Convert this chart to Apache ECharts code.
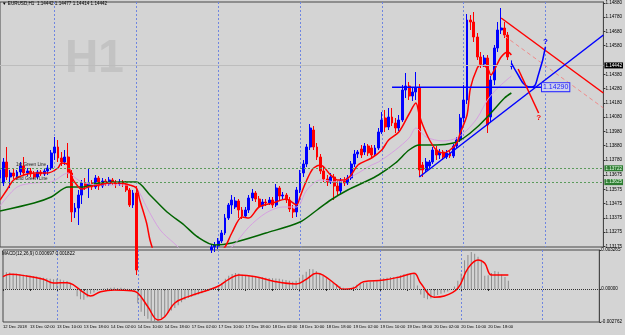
<!DOCTYPE html>
<html>
<head>
<meta charset="utf-8">
<title>EURUSD,H1</title>
<script src="https://cdn.jsdelivr.net/npm/echarts@6/dist/echarts.min.js"></script>
<style>
  html, body { margin: 0; padding: 0; background: #d4d4d4; }
  #chart { width: 625px; height: 335px; }
</style>
</head>
<body>
<div id="chart"></div>
<script>
// one label every 8 hourly bars, starting at bar 0 (12 Dec 18:00)
const timeLabels = [
  "12 Dec 2018", "13 Dec 02:00", "13 Dec 10:00", "13 Dec 18:00", "14 Dec 02:00",
  "14 Dec 10:00", "14 Dec 18:00", "17 Dec 02:00", "17 Dec 10:00", "17 Dec 18:00",
  "18 Dec 02:00", "18 Dec 10:00", "18 Dec 18:00", "19 Dec 02:00", "19 Dec 10:00",
  "19 Dec 18:00", "20 Dec 02:00", "20 Dec 10:00", "20 Dec 18:00"
];
const slotCount = 178; // bars + empty space on the right
const categories = Array.from({ length: slotCount }, (_, i) => String(i));

const priceTicks = [1.14880, 1.14780, 1.14680, 1.14580, 1.14380, 1.14280, 1.14180, 1.14080,
  1.13980, 1.13880, 1.13780, 1.13675, 1.13575, 1.13475, 1.13375, 1.13275, 1.13175];
const macdTicks = [0.003265, 0, -0.002762];
const macdTickLabels = ["0.003265", "0.00000", "-0.002762"];

// [open, close, low, high]
const ohlc = [
  [1.13654, 1.13710, 1.13626, 1.13745], [1.13619, 1.13766, 1.13598, 1.13794], [1.13766, 1.13661, 1.13640, 1.13871],
  [1.13661, 1.13689, 1.13584, 1.13710], [1.13689, 1.13668, 1.13647, 1.13724], [1.13668, 1.13696, 1.13654, 1.13710],
  [1.13696, 1.13738, 1.13675, 1.13766], [1.13738, 1.13689, 1.13675, 1.13801], [1.13689, 1.13703, 1.13668, 1.13724],
  [1.13703, 1.13682, 1.13661, 1.13724], [1.13682, 1.13661, 1.13647, 1.13703], [1.13661, 1.13696, 1.13647, 1.13710],
  [1.13696, 1.13682, 1.13668, 1.13710], [1.13682, 1.13703, 1.13668, 1.13724], [1.13703, 1.13724, 1.13675, 1.13745],
  [1.13724, 1.13829, 1.13710, 1.13850], [1.13829, 1.13871, 1.13780, 1.13941], [1.13871, 1.13794, 1.13766, 1.13920],
  [1.13794, 1.13766, 1.13738, 1.13836], [1.13766, 1.13801, 1.13745, 1.13850], [1.13801, 1.13689, 1.13654, 1.13899],
  [1.13689, 1.13416, 1.13346, 1.13710], [1.13416, 1.13444, 1.13374, 1.13479], [1.13444, 1.13535, 1.13325, 1.13570],
  [1.13535, 1.13619, 1.13472, 1.13640], [1.13619, 1.13598, 1.13570, 1.13654], [1.13598, 1.13619, 1.13514, 1.13724],
  [1.13619, 1.13591, 1.13570, 1.13640], [1.13591, 1.13654, 1.13577, 1.13675], [1.13654, 1.13598, 1.13570, 1.13668],
  [1.13598, 1.13633, 1.13584, 1.13654], [1.13633, 1.13612, 1.13598, 1.13647], [1.13612, 1.13640, 1.13598, 1.13661],
  [1.13640, 1.13626, 1.13605, 1.13654], [1.13626, 1.13612, 1.13584, 1.13640], [1.13612, 1.13626, 1.13598, 1.13647],
  [1.13626, 1.13612, 1.13591, 1.13640], [1.13612, 1.13570, 1.13556, 1.13633], [1.13570, 1.13465, 1.13451, 1.13584],
  [1.13465, 1.13549, 1.13444, 1.13570], [1.13549, 1.13010, 1.12975, 1.13598], [1.13010, 1.12926, 1.12870, 1.13045],
  [1.12926, 1.12954, 1.12884, 1.12996], [1.12954, 1.12870, 1.12828, 1.12975], [1.12870, 1.12905, 1.12814, 1.12940],
  [1.12905, 1.12800, 1.12744, 1.12926], [1.12800, 1.12765, 1.12716, 1.12835], [1.12765, 1.12835, 1.12730, 1.12870],
  [1.12835, 1.12870, 1.12800, 1.12905], [1.12870, 1.12905, 1.12835, 1.12940], [1.12905, 1.12940, 1.12870, 1.12975],
  [1.12940, 1.12975, 1.12905, 1.13010], [1.12975, 1.12954, 1.12926, 1.13010], [1.12954, 1.12996, 1.12940, 1.13024],
  [1.12996, 1.13010, 1.12968, 1.13038], [1.13010, 1.13024, 1.12982, 1.13052], [1.13024, 1.13045, 1.12996, 1.13066],
  [1.13045, 1.13066, 1.13024, 1.13094], [1.13066, 1.13052, 1.13024, 1.13094], [1.13052, 1.13094, 1.13038, 1.13115],
  [1.13094, 1.13115, 1.13066, 1.13136], [1.13115, 1.13150, 1.13094, 1.13164], [1.13150, 1.13171, 1.13129, 1.13192],
  [1.13171, 1.13185, 1.13136, 1.13206], [1.13178, 1.13213, 1.13157, 1.13234], [1.13213, 1.13269, 1.13199, 1.13290],
  [1.13269, 1.13374, 1.13255, 1.13402], [1.13374, 1.13465, 1.13360, 1.13479], [1.13465, 1.13500, 1.13402, 1.13535],
  [1.13451, 1.13493, 1.13437, 1.13521], [1.13493, 1.13430, 1.13374, 1.13507], [1.13430, 1.13388, 1.13367, 1.13451],
  [1.13388, 1.13430, 1.13374, 1.13451], [1.13430, 1.13514, 1.13409, 1.13535], [1.13514, 1.13549, 1.13493, 1.13577],
  [1.13549, 1.13507, 1.13486, 1.13563], [1.13507, 1.13458, 1.13444, 1.13528], [1.13458, 1.13486, 1.13437, 1.13507],
  [1.13486, 1.13479, 1.13458, 1.13507], [1.13479, 1.13500, 1.13465, 1.13521], [1.13500, 1.13465, 1.13444, 1.13521],
  [1.13465, 1.13584, 1.13451, 1.13612], [1.13584, 1.13528, 1.13500, 1.13598], [1.13528, 1.13535, 1.13507, 1.13556],
  [1.13535, 1.13500, 1.13479, 1.13549], [1.13500, 1.13437, 1.13416, 1.13521], [1.13437, 1.13416, 1.13374, 1.13465],
  [1.13416, 1.13570, 1.13381, 1.13591], [1.13570, 1.13689, 1.13549, 1.13710], [1.13689, 1.13752, 1.13661, 1.13780],
  [1.13752, 1.13871, 1.13731, 1.13892], [1.13871, 1.14004, 1.13850, 1.14032], [1.13990, 1.13871, 1.13850, 1.14018],
  [1.13871, 1.13801, 1.13780, 1.13899], [1.13801, 1.13703, 1.13682, 1.13822], [1.13703, 1.13647, 1.13626, 1.13738],
  [1.13647, 1.13626, 1.13598, 1.13675], [1.13626, 1.13661, 1.13612, 1.13689], [1.13661, 1.13598, 1.13500, 1.13682],
  [1.13598, 1.13563, 1.13535, 1.13633], [1.13563, 1.13633, 1.13542, 1.13654], [1.13633, 1.13619, 1.13598, 1.13661],
  [1.13619, 1.13654, 1.13605, 1.13675], [1.13654, 1.13752, 1.13640, 1.13773], [1.13752, 1.13822, 1.13731, 1.13850],
  [1.13822, 1.13836, 1.13794, 1.13850], [1.13857, 1.13815, 1.13794, 1.13885], [1.13836, 1.13878, 1.13815, 1.13899],
  [1.13878, 1.13829, 1.13808, 1.13892], [1.13864, 1.13815, 1.13794, 1.13885], [1.13822, 1.13864, 1.13808, 1.13885],
  [1.13864, 1.13976, 1.13850, 1.14004], [1.13976, 1.14060, 1.13962, 1.14116], [1.14074, 1.14011, 1.13976, 1.14130],
  [1.14011, 1.14081, 1.13990, 1.14144], [1.14081, 1.14039, 1.14018, 1.14144], [1.14039, 1.14004, 1.13969, 1.14074],
  [1.14004, 1.14060, 1.13983, 1.14095], [1.14060, 1.14270, 1.14046, 1.14305], [1.14270, 1.14298, 1.14214, 1.14389],
  [1.14298, 1.14228, 1.14200, 1.14326], [1.14228, 1.14256, 1.14193, 1.14284], [1.14256, 1.14284, 1.14200, 1.14396],
  [1.14284, 1.13710, 1.13661, 1.14312], [1.13745, 1.13710, 1.13661, 1.13766], [1.13710, 1.13766, 1.13696, 1.13794],
  [1.13738, 1.13766, 1.13724, 1.13780], [1.13766, 1.13850, 1.13752, 1.13871], [1.13850, 1.13815, 1.13780, 1.13878],
  [1.13815, 1.13836, 1.13787, 1.13857], [1.13836, 1.13801, 1.13780, 1.13850], [1.13801, 1.13829, 1.13787, 1.13850],
  [1.13829, 1.13808, 1.13794, 1.13850], [1.13808, 1.13878, 1.13794, 1.13892], [1.13878, 1.13920, 1.13864, 1.13941],
  [1.13920, 1.14074, 1.13906, 1.14102], [1.14074, 1.14200, 1.14046, 1.14305], [1.14200, 1.14760, 1.14172, 1.14802],
  [1.14760, 1.14746, 1.14690, 1.14795], [1.14746, 1.14641, 1.14606, 1.14816], [1.14641, 1.14501, 1.14480, 1.14669],
  [1.14501, 1.14452, 1.14424, 1.14536], [1.14452, 1.14494, 1.14431, 1.14515], [1.14494, 1.14025, 1.13969, 1.14515],
  [1.14081, 1.14340, 1.14046, 1.14368], [1.14340, 1.14564, 1.14305, 1.14585], [1.14564, 1.14690, 1.14536, 1.14746],
  [1.14690, 1.14704, 1.14662, 1.14844], [1.14704, 1.14655, 1.14634, 1.14746], [1.14655, 1.14501, 1.14480, 1.14676],
  [1.14436, 1.14442, 1.14414, 1.14477]
];

// moving averages: [bar, price]
const maFast = [[0, 1.13500], [2, 1.13570], [4, 1.13640], [7, 1.13675], [10, 1.13689], [14, 1.13689], [17, 1.13724],
  [18, 1.13759], [20, 1.13745], [21, 1.13661], [23, 1.13591], [24, 1.13577], [26, 1.13591], [29, 1.13605], [32, 1.13619],
  [35, 1.13619], [38, 1.13605], [40, 1.13584], [41, 1.13500], [43, 1.13339], [44, 1.13220], [46, 1.13066], [48, 1.12905],
  [52, 1.12905], [56, 1.12975], [60, 1.13066], [64, 1.13129], [66, 1.13171], [68, 1.13269], [71, 1.13381], [73, 1.13374],
  [76, 1.13451], [80, 1.13479], [84, 1.13507], [87, 1.13465], [88, 1.13521], [89, 1.13584], [90, 1.13640], [91, 1.13689],
  [92, 1.13724], [94, 1.13745], [97, 1.13675], [99, 1.13640], [101, 1.13640], [103, 1.13675], [105, 1.13745], [109, 1.13794],
  [112, 1.13850], [114, 1.13920], [117, 1.13976], [120, 1.14102], [122, 1.14179], [123, 1.14095], [124, 1.14025],
  [126, 1.13920], [128, 1.13850], [130, 1.13829], [132, 1.13850], [134, 1.13899], [135, 1.13969], [137, 1.14095],
  [138, 1.14284], [140, 1.14424], [141, 1.14445], [143, 1.14424], [144, 1.14375], [145, 1.14410], [147, 1.14501],
  [149, 1.14536], [150, 1.14515]];
const maMid = [[0, 1.13458], [5, 1.13591], [10, 1.13619], [15, 1.13626], [20, 1.13689], [21, 1.13675], [24, 1.13626],
  [29, 1.13605], [37, 1.13605], [40, 1.13584], [43, 1.13451], [47, 1.13290], [51, 1.13199], [55, 1.13115], [60, 1.13094],
  [64, 1.13115], [68, 1.13171], [73, 1.13311], [78, 1.13409], [83, 1.13451], [87, 1.13451], [90, 1.13570], [94, 1.13640],
  [99, 1.13626], [104, 1.13675], [109, 1.13745], [111, 1.13766], [116, 1.13850], [120, 1.13934], [122, 1.14004],
  [125, 1.13941], [130, 1.13913], [134, 1.13934], [137, 1.13990], [140, 1.14074], [143, 1.14200], [146, 1.14284],
  [150, 1.14368]];
const maSlow = [[0, 1.13423], [10, 1.13479], [15, 1.13521], [20, 1.13591], [24, 1.13591], [29, 1.13619], [37, 1.13626],
  [40, 1.13626], [44, 1.13535], [49, 1.13416], [54, 1.13325], [58, 1.13241], [63, 1.13185], [68, 1.13199], [78, 1.13269],
  [88, 1.13346], [93, 1.13430], [97, 1.13500], [102, 1.13570], [107, 1.13626], [111, 1.13675], [116, 1.13759],
  [120, 1.13850], [123, 1.13885], [128, 1.13885], [133, 1.13899], [136, 1.13934], [140, 1.14011], [144, 1.14109],
  [148, 1.14214], [150, 1.14249]];

// hand drawn objects: [bar, price]
const levelLine = [[115, 1.14290], [167, 1.14290]];
const trendUp = [[123, 1.13661], [177, 1.14655]];
const trendDown = [[147, 1.14774], [177, 1.14249]];
const trendDownDashed = [[148, 1.14648], [177, 1.14144]];
const pathUp = [[150, 1.14459], [152, 1.14375], [154, 1.14305], [156, 1.14291], [158, 1.14382], [160, 1.14571]];
const pathDown = [[152, 1.14417], [158, 1.14109]];

const bidPrice = 1.14442;
const greenLevels = [1.13722, 1.13625];
const greenNames = ["1st Green Line", "2nd Green Line"];

const macdMain = [
  0.00135, 0.00140, 0.00138, 0.00130, 0.00128, 0.00125, 0.00120, 0.00118, 0.00112, 0.00108,
  0.00104, 0.00098, 0.00094, 0.00090, 0.00085, 0.00082, 0.00085, 0.00080, 0.00072, 0.00066,
  0.00045, 0.00000, -0.00060, -0.00085, -0.00090, -0.00070, -0.00040, -0.00030, -0.00015, -0.00005,
  0.00005, 0.00008, 0.00010, 0.00012, 0.00008, 0.00010, 0.00006, 0.00002, -0.00010, -0.00025,
  -0.00120, -0.00190, -0.00225, -0.00250, -0.00268, -0.00272, -0.00265, -0.00245, -0.00225, -0.00200,
  -0.00180, -0.00160, -0.00135, -0.00110, -0.00090, -0.00075, -0.00065, -0.00055, -0.00045, -0.00035,
  -0.00025, -0.00015, 0.00000, 0.00015, 0.00030, 0.00050, 0.00085, 0.00110, 0.00125, 0.00135,
  0.00130, 0.00120, 0.00118, 0.00112, 0.00110, 0.00108, 0.00100, 0.00098, 0.00095, 0.00092,
  0.00090, 0.00088, 0.00085, 0.00080, 0.00075, 0.00070, 0.00060, 0.00070, 0.00095, 0.00120,
  0.00145, 0.00168, 0.00165, 0.00150, 0.00130, 0.00110, 0.00090, 0.00070, 0.00055, 0.00040,
  0.00025, 0.00010, 0.00000, 0.00005, 0.00020, 0.00035, 0.00045, 0.00050, 0.00055, 0.00060,
  0.00065, 0.00075, 0.00085, 0.00090, 0.00095, 0.00100, 0.00100, 0.00105, 0.00115, 0.00125,
  0.00128, 0.00130, 0.00132, 0.00030, -0.00045, -0.00075, -0.00085, -0.00080, -0.00065, -0.00050,
  -0.00040, -0.00030, -0.00020, 0.00000, 0.00020, 0.00070, 0.00130, 0.00240, 0.00285, 0.00310,
  0.00295, 0.00270, 0.00245, 0.00110, 0.00115, 0.00135, 0.00150, 0.00145, 0.00120, 0.00100,
  0.00070
];
const macdSignal = [[0, 0.00103], [2, 0.00123], [7, 0.00109], [12, 0.00081], [15, 0.00050], [19, 0.00053], [21, 0.00033],
  [24, -0.00031], [26, -0.00059], [29, -0.00023], [33, -0.00008], [38, -0.00014], [40, -0.00033], [43, -0.00148],
  [46, -0.00259], [48, -0.00232], [51, -0.00117], [55, -0.00064], [61, -0.00008], [64, 0.00025], [67, 0.00081],
  [70, 0.00117], [75, 0.00103], [81, 0.00061], [87, 0.00042], [90, 0.00081], [93, 0.00131], [95, 0.00117],
  [99, 0.00033], [101, -0.00003], [104, 0.00006], [107, 0.00061], [113, 0.00075], [118, 0.00103], [122, 0.00131],
  [124, 0.00048], [128, -0.00069], [131, -0.00059], [135, 0.00006], [138, 0.00173], [141, 0.00243], [143, 0.00215],
  [145, 0.00117], [150, 0.00117]];

const FONT = "Liberation Sans";
const tiny = { fontSize: 4.6, color: "#000", fontFamily: FONT };
const isLabelSlot = i => i % 8 === 0 && i / 8 < timeLabels.length;
const isGridSlot = i => i % 24 === 16;
const gridLine = { show: true, interval: i => isGridSlot(i), lineStyle: { color: "#6f86e0", type: [2, 2], width: 1 } };

function drawing(data, color, width, type) {
  return {
    type: "line", xAxisIndex: 0, yAxisIndex: 0, data: data, symbol: "none", silent: true,
    lineStyle: { color: color, width: width, type: type || "solid" }, z: 5
  };
}

// horizontal price lines (bid + the two green levels) on a hidden helper series
const priceLines = [
  { yAxis: bidPrice, lineStyle: { color: "#bdbdbd", width: 1, type: "solid" },
    label: { position: "end", distance: 1, formatter: bidPrice.toFixed(5), backgroundColor: "#000",
      padding: [1, 1, 0, 1], ...tiny, color: "#fff" } }
];
greenLevels.forEach((p, k) => {
  priceLines.push({ yAxis: p, lineStyle: { color: "#5b9b5b", width: 1, type: [2, 2] },
    label: { position: "end", distance: 1, formatter: p.toFixed(5), backgroundColor: "#2e7d32",
      padding: [1, 1, 0, 1], ...tiny, color: "#e6ffe6" } });
  priceLines.push({ yAxis: p, lineStyle: { color: "rgba(0,0,0,0)", width: 1, type: "solid" },
    label: { position: "insideStartTop", distance: 1, padding: [0, 0, 0, 15], formatter: greenNames[k], ...tiny, color: "#222" } });
});

const chart = echarts.init(document.getElementById("chart"));
const option = {
  backgroundColor: "#d4d4d4",
  animation: false,
  title: [
    { text: "▼ EURUSD,H1  1.14442 1.14477 1.14414 1.14442", left: 2, top: 1, padding: 0, textStyle: { ...tiny, fontWeight: "normal" } },
    { text: "H1", left: 65, top: 36, padding: 0, z: 0, textStyle: { fontSize: 46, fontWeight: "bold", color: "#c3c3c3", fontFamily: FONT } },
    { text: "MACD(12,26,9) 0.000697 0.001822", left: 2, top: 251, padding: 0, textStyle: { ...tiny, fontWeight: "normal" } }
  ],
  grid: [
    { left: -1, top: 2, width: 608, height: 245, show: true, borderColor: "#484848", borderWidth: 1 },
    { left: -1, top: 250, width: 608, height: 72, show: true, borderColor: "#484848", borderWidth: 1 }
  ],
  xAxis: [
    { type: "category", gridIndex: 0, data: categories, boundaryGap: false,
      axisLine: { show: false }, axisTick: { show: false }, axisLabel: { show: false }, splitLine: gridLine },
    { type: "category", gridIndex: 1, data: categories, boundaryGap: false,
      axisLine: { show: false },
      axisTick: { show: true, interval: i => isLabelSlot(i), length: 2, lineStyle: { color: "#333" } },
      axisLabel: { show: true, interval: i => isLabelSlot(i), formatter: (v, i) => timeLabels[i / 8] || "",
        align: "left", margin: 3, ...tiny, fontSize: 4.2 },
      splitLine: gridLine }
  ],
  yAxis: [
    { type: "value", gridIndex: 0, position: "right", min: 1.13171, max: 1.14886,
      axisLine: { show: true, lineStyle: { color: "#484848" } },
      axisTick: { show: true, length: 2, customValues: priceTicks, lineStyle: { color: "#333" } },
      axisLabel: { customValues: priceTicks, formatter: v => v.toFixed(5), margin: 2, ...tiny },
      splitLine: { show: false } },
    { type: "value", gridIndex: 1, position: "right", min: macdTicks[2], max: macdTicks[0],
      axisLine: { show: true, lineStyle: { color: "#484848" } },
      axisTick: { show: true, length: 2, customValues: macdTicks, lineStyle: { color: "#333" } },
      axisLabel: { customValues: macdTicks, formatter: v => macdTickLabels[macdTicks.indexOf(v)] || "", margin: 2, ...tiny },
      splitLine: { show: false } }
  ],
  series: [
    { type: "line", xAxisIndex: 0, yAxisIndex: 0, data: [], silent: true,
      markLine: { silent: true, precision: 5, symbol: ["none", "none"], data: priceLines } },
    {
      type: "candlestick", xAxisIndex: 0, yAxisIndex: 0, data: ohlc, barWidth: 2.4,
      itemStyle: { color: "#0000ff", color0: "#ff0000", borderColor: "#0000ff", borderColor0: "#ff0000", borderWidth: 1 }
    },
    { type: "line", xAxisIndex: 0, yAxisIndex: 0, data: maSlow, smooth: 0.3, symbol: "none", silent: true,
      lineStyle: { color: "#006400", width: 1.5 } },
    { type: "line", xAxisIndex: 0, yAxisIndex: 0, data: maMid, smooth: 0.3, symbol: "none", silent: true,
      lineStyle: { color: "#d6a0e0", width: 1 } },
    { type: "line", xAxisIndex: 0, yAxisIndex: 0, data: maFast, smooth: 0.3, symbol: "none", silent: true,
      lineStyle: { color: "#ff0000", width: 1.5 } },
    drawing(trendDownDashed, "#f08a8a", 1, [4, 3]),
    drawing(trendDown, "#ff0000", 1.5),
    drawing(trendUp, "#0000ff", 1.5),
    {
      ...drawing(levelLine, "#0000ff", 1.5),
      symbol: "circle", symbolSize: 0, showSymbol: true,
      data: [levelLine[0], { value: levelLine[1], label: { show: true, position: "left", distance: 0,
        formatter: levelLine[1][1].toFixed(5), fontSize: 7, color: "#2020ff", fontFamily: FONT,
        backgroundColor: "#cfd3ea", borderColor: "#2a2aff", borderWidth: 1, padding: [1, 1, 0, 1] } }]
    },
    {
      ...drawing(pathUp, "#0000ff", 1.5), smooth: 0.5,
      symbol: "circle", symbolSize: 0, showSymbol: true,
      data: pathUp.map((p, k) => k === pathUp.length - 1
        ? { value: p, label: { show: true, position: "top", distance: 1, formatter: "?", fontSize: 8, fontWeight: "bold", color: "#0000ff", fontFamily: FONT } }
        : p)
    },
    {
      ...drawing(pathDown, "#ff0000", 1.5),
      symbol: "circle", symbolSize: 0, showSymbol: true,
      data: [pathDown[0], { value: pathDown[1], label: { show: true, position: "bottom", distance: 1,
        formatter: "?", fontSize: 8, fontWeight: "bold", color: "#ff0000", fontFamily: FONT } }]
    },
    {
      type: "bar", xAxisIndex: 1, yAxisIndex: 1, data: macdMain, barWidth: 1, silent: true,
      itemStyle: { color: "#8c8c8c" },
      markLine: { silent: true, precision: 6, symbol: ["none", "none"], label: { show: false },
        data: [{ yAxis: 0 }], lineStyle: { color: "#333", width: 1, type: [1, 1] } }
    },
    { type: "line", xAxisIndex: 1, yAxisIndex: 1, data: macdSignal, smooth: 0.4, symbol: "none", silent: true,
      lineStyle: { color: "#ff0000", width: 1.5 } }
  ]
};
chart.setOption(option);
</script>
</body>
</html>
